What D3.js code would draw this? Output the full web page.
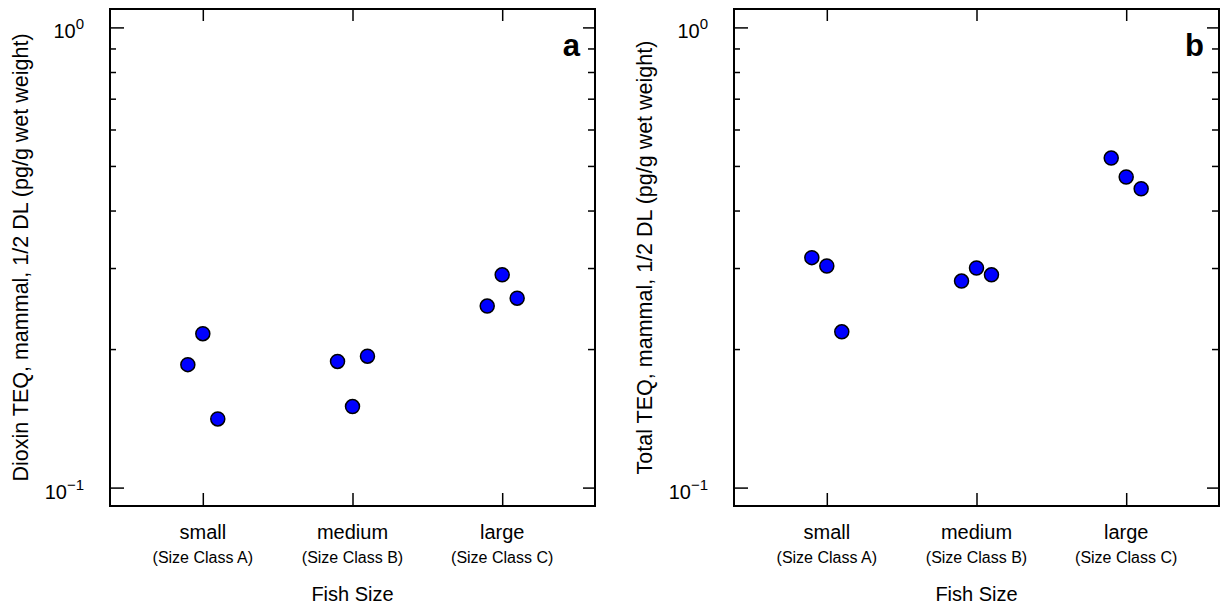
<!DOCTYPE html>
<html>
  <head>
    <title>Fish size TEQ</title>
    <script src="https://d3js.org/d3.v7.min.js"></script>
  </head>
  <style>
    body { margin: 0; background: #fff; }
    svg { font-family: "Liberation Sans", Arial, sans-serif; }
    path.domain { stroke: none; }
    .tick > line { stroke: #000; stroke-width: 1.5; }
  </style>
  <body>
    <svg id="chart" width="1221" height="609"></svg>
    <script>
      // categories and sub labels
      var sizes = ["small", "medium", "large"];
      var sizeClasses = ["(Size Class A)", "(Size Class B)", "(Size Class C)"];

      // panel a: dioxin TEQ, three fish per size class
      var dioxinSmall = [0.185, 0.216, 0.141];
      var dioxinMedium = [0.188, 0.150, 0.193];
      var dioxinLarge = [0.248, 0.290, 0.258];

      // panel b: total TEQ
      var totalSmall = [0.316, 0.303, 0.218];
      var totalMedium = [0.281, 0.300, 0.290];
      var totalLarge = [0.520, 0.473, 0.446];

      var majorTicks = [0.1, 1];
      var majorExp = ["\u22121", "0"];
      var minorTicks = [0.2, 0.3, 0.4, 0.5, 0.6, 0.7, 0.8, 0.9];

      var svg = d3.select("#chart");
      var top_ = 9, bottom = 506, w = 485;

      var yScale = d3.scaleLog()
        .domain([Math.pow(10, -1.04), Math.pow(10, 0.04)])
        .range([bottom, top_]);

      function panel(left, letter, ytitle, groups) {
        var xScale = d3.scaleLinear().domain([0.38, 3.62]).range([left, left + w]);
        var g = svg.append("g");

        // y ticks, left and right, pointing inward
        g.append("g").attr("transform", "translate(" + left + ",0)")
          .call(d3.axisLeft(yScale).tickValues(majorTicks).tickSize(-14).tickFormat(""));
        g.append("g").attr("transform", "translate(" + left + ",0)")
          .call(d3.axisLeft(yScale).tickValues(minorTicks).tickSize(-6).tickFormat(""));
        g.append("g").attr("transform", "translate(" + (left + w) + ",0)")
          .call(d3.axisRight(yScale).tickValues(majorTicks).tickSize(-12).tickFormat(""));
        g.append("g").attr("transform", "translate(" + (left + w) + ",0)")
          .call(d3.axisRight(yScale).tickValues(minorTicks).tickSize(-7).tickFormat(""));

        // category ticks top and bottom
        g.append("g").attr("transform", "translate(0," + bottom + ")")
          .call(d3.axisBottom(xScale).tickValues([1, 2, 3]).tickSize(-13).tickFormat(""));
        g.append("g").attr("transform", "translate(0," + top_ + ")")
          .call(d3.axisTop(xScale).tickValues([1, 2, 3]).tickSize(-12).tickFormat(""));

        g.append("rect")
          .attr("x", left).attr("y", top_)
          .attr("width", w).attr("height", bottom - top_)
          .attr("fill", "none").attr("stroke", "#000").attr("stroke-width", 2);

        // y tick labels 10^n
        majorTicks.forEach(function(v, i) {
          var t = g.append("text")
            .attr("x", left - 26)
            .attr("y", yScale(v) + 11)
            .attr("text-anchor", "end")
            .attr("font-size", 20);
          t.append("tspan").text("10");
          t.append("tspan").attr("dy", -9).attr("font-size", 15).text(majorExp[i]);
        });

        // category labels
        sizes.forEach(function(s, i) {
          g.append("text").attr("x", xScale(i + 1)).attr("y", 539)
            .attr("text-anchor", "middle").attr("font-size", 20).text(s);
          g.append("text").attr("x", xScale(i + 1)).attr("y", 563)
            .attr("text-anchor", "middle").attr("font-size", 16).text(sizeClasses[i]);
        });

        g.append("text").attr("x", left + w / 2).attr("y", 601)
          .attr("text-anchor", "middle").attr("font-size", 20).text("Fish Size");

        g.append("text")
          .attr("transform", "translate(" + (left - 82) + "," + ((top_ + bottom) / 2) + ") rotate(-90)")
          .attr("text-anchor", "middle").attr("font-size", 21.5).text(ytitle);

        g.append("text").attr("x", left + w - 15).attr("y", 56)
          .attr("text-anchor", "end").attr("font-size", 31).attr("font-weight", "bold").text(letter);

        // points, small jitter around each category
        groups.forEach(function(vals, i) {
          g.selectAll(null)
            .data(vals)
            .enter()
            .append("circle")
              .attr("cx", (d, j) => xScale(i + 1 + (j - 1) * 0.1))
              .attr("cy", d => yScale(d))
              .attr("r", 7)
              .attr("fill", "#0000FF")
              .attr("stroke", "#000")
              .attr("stroke-width", 1.5);
        });
      }

      panel(110, "a", "Dioxin TEQ, mammal, 1/2 DL (pg/g wet weight)", [dioxinSmall, dioxinMedium, dioxinLarge]);
      panel(734, "b", "Total TEQ, mammal, 1/2 DL (pg/g wet weight)", [totalSmall, totalMedium, totalLarge]);
    </script>
  </body>
</html>
